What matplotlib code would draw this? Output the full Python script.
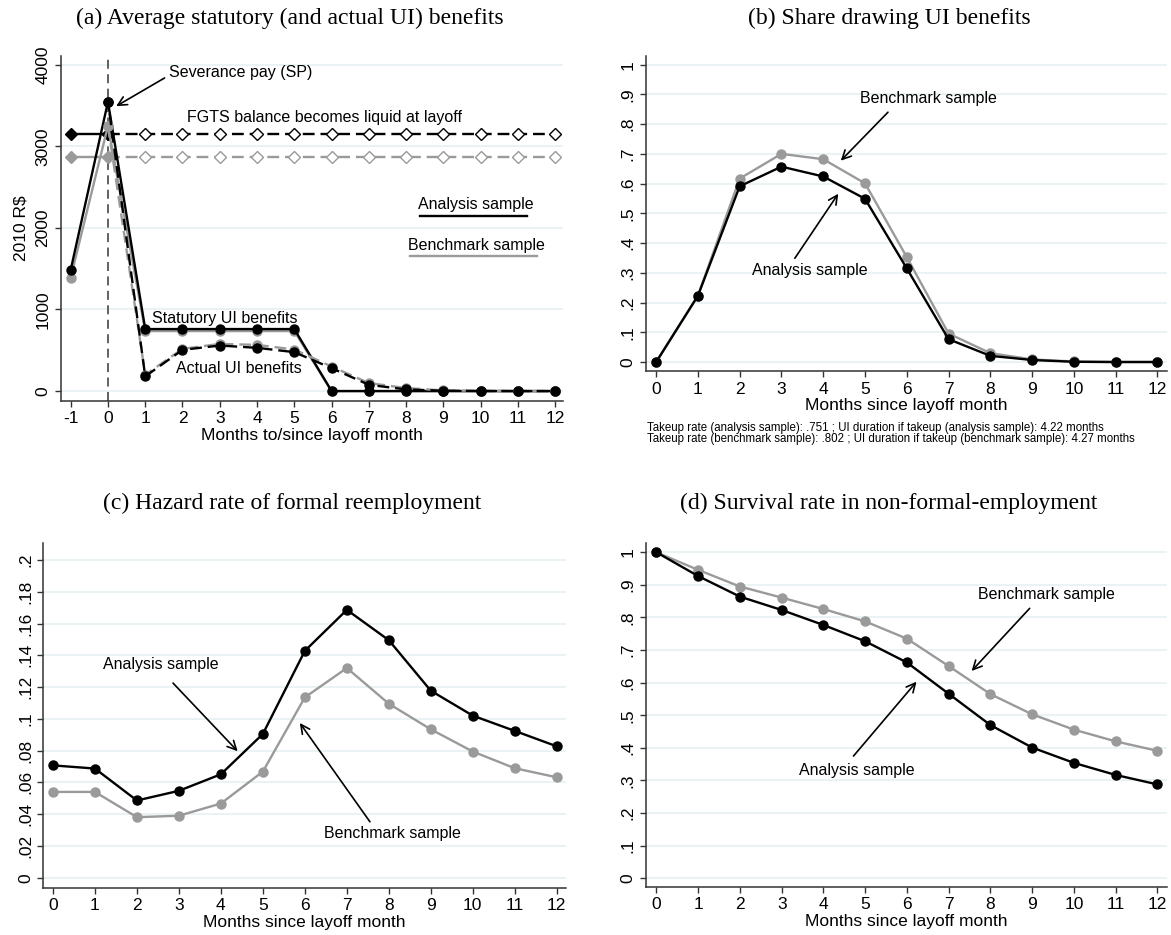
import numpy as np
import matplotlib.pyplot as plt

plt.rcParams['font.family'] = ['Liberation Sans', 'DejaVu Sans']

# ---- data ----
months_a = [-1, 0, 1, 2, 3, 4, 5, 6, 7, 8, 9, 10, 11, 12]
months = [0, 1, 2, 3, 4, 5, 6, 7, 8, 9, 10, 11, 12]

# (a) benefits in 2010 R$ (months -1..12)
stat_analysis = [1485, 3545, 760, 760, 760, 760, 760, 0, 0, 0, 0, 0, 0, 0]
stat_bench = [1390, 3250, 735, 735, 735, 735, 735, 0, 0, 0, 0, 0, 0, 0]
# actual UI (months 0..12)
actual_analysis = [3545, 180, 505, 558, 530, 477, 281, 77, 20, 4, 1, 0, 0]
actual_bench = [3250, 200, 517, 578, 566, 509, 301, 98, 37, 8, 2, 1, 1]
# FGTS balance (months -1..12)
fgts_analysis = [3150, 3150, 3150, 3150, 3150, 3150, 3150, 3150, 3150, 3150, 3150, 3150, 3150, 3150]
fgts_bench = [2870, 2870, 2870, 2870, 2870, 2870, 2870, 2870, 2870, 2870, 2870, 2870, 2870, 2870]

# (b) share drawing UI
share_analysis = [0, 0.223, 0.591, 0.657, 0.624, 0.549, 0.315, 0.077, 0.021, 0.007, 0.001, 0.0, 0.0]
share_bench = [0, 0.223, 0.617, 0.700, 0.682, 0.601, 0.353, 0.096, 0.030, 0.009, 0.002, 0.001, 0.001]

# (c) hazard of formal reemployment
hazard_analysis = [0.0707, 0.0687, 0.0486, 0.0547, 0.0651, 0.0905, 0.1428, 0.1686, 0.1495,
                   0.1177, 0.1020, 0.0924, 0.0827]
hazard_bench = [0.0540, 0.0540, 0.0381, 0.0390, 0.0467, 0.0668, 0.1135, 0.1320, 0.1095,
                0.0934, 0.0794, 0.0689, 0.0632]

# (d) survival in non-formal-employment
surv_analysis = [1.0, 0.927, 0.864, 0.823, 0.777, 0.727, 0.662, 0.566, 0.470, 0.401, 0.354, 0.317, 0.288]
surv_bench = [1.0, 0.946, 0.895, 0.861, 0.826, 0.788, 0.735, 0.651, 0.565, 0.503, 0.456, 0.420, 0.391]

notes = ["Takeup rate (analysis sample): .751 ; UI duration if takeup (analysis sample): 4.22 months",
         "Takeup rate (benchmark sample): .802 ; UI duration if takeup (benchmark sample): 4.27 months"]

BLACK = 'black'
GRAY = '#9a9a9a'
GRID = '#e6eff1'
AX = '#333333'

W, H = 1171, 935
fig = plt.figure(figsize=(W / 100, H / 100), dpi=100)


def add_ax(left, right, top, bottom):
    return fig.add_axes([left / W, 1 - bottom / H, (right - left) / W, (bottom - top) / H])


def style(ax, yticks, ylabels, xticks):
    for s in ['top', 'right']:
        ax.spines[s].set_visible(False)
    for s in ['left', 'bottom']:
        ax.spines[s].set_color(AX)
        ax.spines[s].set_linewidth(1.1)
    ax.set_yticks(yticks)
    ax.set_yticklabels(ylabels, rotation=90, va='center')
    ax.set_xticks(xticks)
    ax.set_xticklabels([str(v) for v in xticks])
    ax.tick_params(direction='out', length=4.5, width=1, color=AX, labelsize=12.5, pad=3)
    ax.grid(axis='y', color=GRID, lw=1.1)
    ax.set_axisbelow(True)


def arrow(ax, xy_from, xy_to):
    ax.annotate('', xy=xy_to, xytext=xy_from,
                arrowprops=dict(arrowstyle='->', color='black', lw=1.2,
                                shrinkA=0, shrinkB=0, mutation_scale=16))


line_kw = dict(lw=1.7, marker='o', ms=6.5)
dash = (0, (5, 2.5))

# ---------------- (a) ----------------
ax = add_ax(61, 563, 56, 400.7)
ax.axvline(0, color='#555555', lw=1.3, ls=(0, (5, 3)), zorder=1)
# FGTS balance
ax.plot(months_a[1:], fgts_bench[1:], color=GRAY, lw=1.7, ls=dash, marker='D', ms=6.5,
        mfc='white', mec=GRAY, zorder=2)
ax.plot(months_a[:2], fgts_bench[:2], color=GRAY, lw=1.7, marker='D', ms=6.5, mfc=GRAY, zorder=3)
ax.plot(months_a[1:], fgts_analysis[1:], color=BLACK, lw=1.7, ls=dash, marker='D', ms=6.5,
        mfc='white', mec=BLACK, zorder=2)
ax.plot(months_a[:2], fgts_analysis[:2], color=BLACK, lw=1.7, marker='D', ms=6.5, mfc=BLACK, zorder=3)
# statutory benefits
ax.plot(months_a, stat_bench, color=GRAY, zorder=3, **line_kw)
ax.plot(months_a, stat_analysis, color=BLACK, zorder=4, **line_kw)
# actual UI benefits
ax.plot(months, actual_bench, color=GRAY, ls=dash, zorder=4, **line_kw)
ax.plot(months, actual_analysis, color=BLACK, ls=(2.5, (5, 2.5)), zorder=5, **line_kw)
ax.set_xlim(-1.26, 12.21)
ax.set_ylim(-118, 4106)
style(ax, [0, 1000, 2000, 3000, 4000], ['0', '1000', '2000', '3000', '4000'], months_a)
ax.set_xlabel('Months to/since layoff month', fontsize=12.5, labelpad=1)
ax.set_ylabel('2010 R$', fontsize=12.5, labelpad=5)
ax.text(3.55, 3906, 'Severance pay (SP)', fontsize=11.5, ha='center', va='center')
arrow(ax, (1.52, 3837), (0.22, 3491))
ax.text(5.8, 3348, 'FGTS balance becomes liquid at layoff', fontsize=11.5, ha='center', va='center')
ax.text(9.87, 2289, 'Analysis sample', fontsize=11.5, ha='center', va='center')
ax.plot([8.36, 11.25], [2147, 2147], color=BLACK, lw=1.7)
ax.text(9.89, 1788, 'Benchmark sample', fontsize=11.5, ha='center', va='center')
ax.plot([8.1, 11.5], [1658, 1658], color=GRAY, lw=1.7)
ax.text(3.13, 892, 'Statutory UI benefits', fontsize=11.5, ha='center', va='center')
ax.text(3.5, 273, 'Actual UI benefits', fontsize=11.5, ha='center', va='center')

# ---------------- (b) ----------------
ax = add_ax(645.7, 1167, 56, 371.3)
ax.plot(months, share_bench, color=GRAY, **line_kw)
ax.plot(months, share_analysis, color=BLACK, **line_kw)
ax.set_xlim(-0.25, 12.23)
ax.set_ylim(-0.031, 1.029)
yt = [0, .1, .2, .3, .4, .5, .6, .7, .8, .9, 1]
style(ax, yt, ['0', '.1', '.2', '.3', '.4', '.5', '.6', '.7', '.8', '.9', '1'], months)
ax.set_xlabel('Months since layoff month', fontsize=12.5, labelpad=1)
ax.text(6.52, 0.886, 'Benchmark sample', fontsize=11.5, ha='center', va='center')
arrow(ax, (5.55, 0.840), (4.42, 0.677))
ax.text(3.67, 0.308, 'Analysis sample', fontsize=11.5, ha='center', va='center')
arrow(ax, (3.32, 0.349), (4.36, 0.566))
fig.text(647.4 / W, 1 - 428 / H, notes[0], fontsize=8.3, ha='left', va='center')
fig.text(647.4 / W, 1 - 439.3 / H, notes[1], fontsize=8.3, ha='left', va='center')

# ---------------- (c) ----------------
ax = add_ax(43.3, 566, 543.3, 887.7)
ax.plot(months, hazard_bench, color=GRAY, **line_kw)
ax.plot(months, hazard_analysis, color=BLACK, **line_kw)
ax.set_xlim(-0.23, 12.22)
ax.set_ylim(-0.0063, 0.2105)
yt = [0, .02, .04, .06, .08, .1, .12, .14, .16, .18, .2]
style(ax, yt, ['0', '.02', '.04', '.06', '.08', '.1', '.12', '.14', '.16', '.18', '.2'], months)
ax.set_xlabel('Months since layoff month', fontsize=12.5, labelpad=1)
ax.text(2.56, 0.134, 'Analysis sample', fontsize=11.5, ha='center', va='center')
arrow(ax, (2.86, 0.1225), (4.40, 0.0796))
ax.text(8.08, 0.0279, 'Benchmark sample', fontsize=11.5, ha='center', va='center')
arrow(ax, (7.55, 0.0352), (5.88, 0.0974))

# ---------------- (d) ----------------
ax = add_ax(646, 1167, 543.3, 886.7)
ax.plot(months, surv_bench, color=GRAY, **line_kw)
ax.plot(months, surv_analysis, color=BLACK, **line_kw)
ax.set_xlim(-0.25, 12.23)
ax.set_ylim(-0.0258, 1.0276)
yt = [0, .1, .2, .3, .4, .5, .6, .7, .8, .9, 1]
style(ax, yt, ['0', '.1', '.2', '.3', '.4', '.5', '.6', '.7', '.8', '.9', '1'], months)
ax.set_xlabel('Months since layoff month', fontsize=12.5, labelpad=1)
ax.text(9.34, 0.872, 'Benchmark sample', fontsize=11.5, ha='center', va='center')
arrow(ax, (8.94, 0.828), (7.55, 0.636))
ax.text(4.81, 0.332, 'Analysis sample', fontsize=11.5, ha='center', va='center')
arrow(ax, (4.72, 0.375), (6.23, 0.603))

# panel titles
title_kw = dict(fontsize=17, family=['Liberation Serif', 'DejaVu Serif'], ha='center', va='center')
fig.text(290 / W, 1 - 18 / H, '(a) Average statutory (and actual UI) benefits', **title_kw)
fig.text(889 / W, 1 - 18 / H, '(b) Share drawing UI benefits', **title_kw)
fig.text(292 / W, 1 - 503 / H, '(c) Hazard rate of formal reemployment', **title_kw)
fig.text(889 / W, 1 - 503 / H, '(d) Survival rate in non-formal-employment', **title_kw)

fig.savefig('out.png', dpi=100)
